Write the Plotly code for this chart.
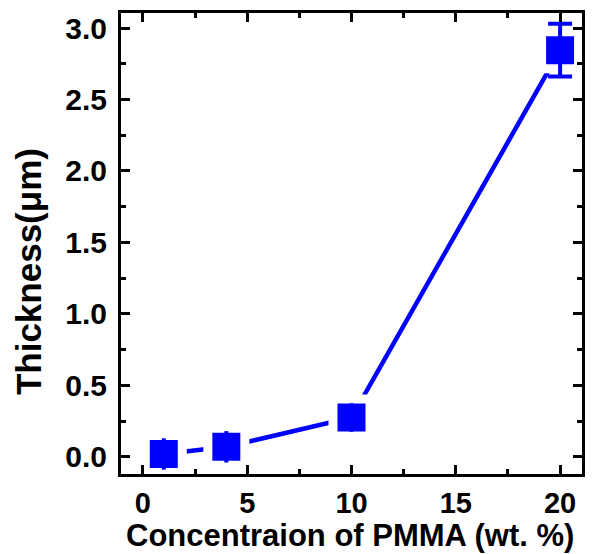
import plotly.graph_objects as go

conc = [1, 4, 10, 20]
thickness = [0.02, 0.07, 0.275, 2.845]
err_small = [0.11, 0.11, 0.1, 0]
err_big = [0, 0, 0, 0.185]

x_ticks = [0, 5, 10, 15, 20]
y_ticks = [0.0, 0.5, 1.0, 1.5, 2.0, 2.5, 3.0]
y_tick_labels = ["0.0", "0.5", "1.0", "1.5", "2.0", "2.5", "3.0"]

blue = "#0000FF"
font_family = "Liberation Sans, Arial, sans-serif"

fig = go.Figure()
# connecting line
fig.add_trace(go.Scatter(x=conc, y=thickness, mode="lines",
                         line=dict(color=blue, width=4.5), hoverinfo="skip"))
# markers with white halo to create gaps
fig.add_trace(go.Scatter(x=conc, y=thickness, mode="markers",
                         marker=dict(symbol="square", size=37, color=blue,
                                     line=dict(color="white", width=9))))
# small error bars (no caps)
fig.add_trace(go.Scatter(x=conc, y=thickness, mode="markers",
                         marker=dict(size=1, color="rgba(0,0,0,0)"),
                         error_y=dict(type="data", array=err_small, color=blue,
                                      thickness=4, width=0)))
# big error bar with caps
fig.add_trace(go.Scatter(x=conc, y=thickness, mode="markers",
                         marker=dict(size=1, color="rgba(0,0,0,0)"),
                         error_y=dict(type="data", array=err_big, color=blue,
                                      thickness=4, width=12)))

axis_common = dict(
    showline=True, linecolor="black", linewidth=3, mirror="ticks",
    ticks="inside", ticklen=9, tickwidth=3, tickcolor="black",
    showgrid=False, zeroline=False, automargin=False,
)

fig.update_xaxes(
    range=[-1.05, 21.05], tickvals=x_ticks,
    minor=dict(dtick=2.5, tick0=0, ticks="inside", ticklen=5, tickwidth=3,
               tickcolor="black", showgrid=False),
    ticklabelstandoff=1,
    tickfont=dict(family=font_family, size=29, color="black", weight="bold"),
    **axis_common)
fig.update_yaxes(
    range=[-0.12, 3.105], tickvals=y_ticks, ticktext=y_tick_labels,
    minor=dict(dtick=0.25, tick0=0, ticks="inside", ticklen=5, tickwidth=3,
               tickcolor="black", showgrid=False),
    ticklabelstandoff=5,
    tickfont=dict(family=font_family, size=30, color="black", weight="bold"),
    **axis_common)

fig.add_annotation(
    text="Thickness(μm)", textangle=-90, showarrow=False,
    xref="paper", yref="paper", x=-0.2017, y=0.438,
    xanchor="center", yanchor="middle",
    font=dict(family=font_family, size=35, color="black", weight="bold"))
fig.add_annotation(
    text="Concentraion of PMMA (wt. %)", showarrow=False,
    xref="paper", yref="paper", x=0.497, y=-0.1735,
    xanchor="center", yanchor="bottom", borderpad=0,
    font=dict(family=font_family, size=31, color="black", weight="bold"))

fig.update_layout(
    width=600, height=554,
    margin=dict(l=121, r=18, t=13, b=80),
    plot_bgcolor="white", paper_bgcolor="white",
    showlegend=False,
)

fig.write_html("out.html")
